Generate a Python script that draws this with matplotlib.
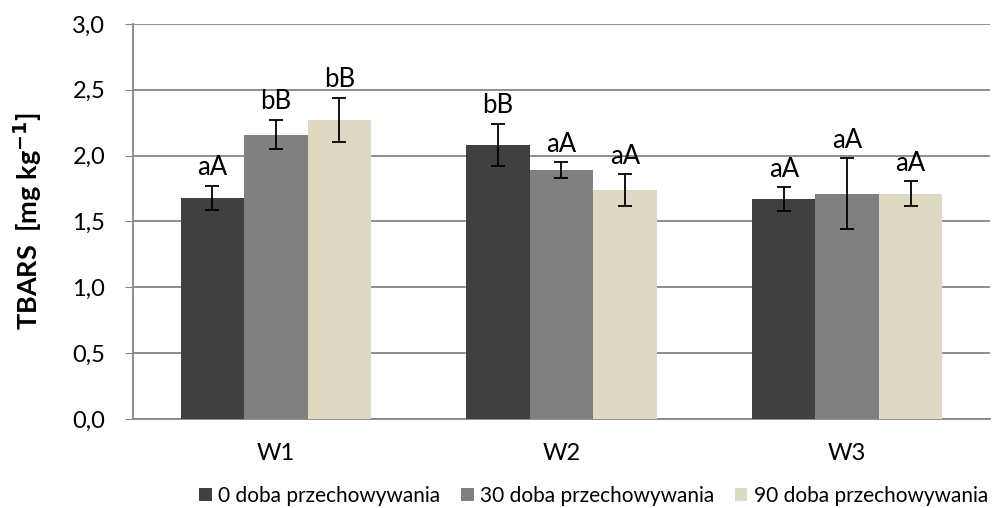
import matplotlib
matplotlib.use("Agg")
import matplotlib.pyplot as plt
import numpy as np

categories = ["W1", "W2", "W3"]
series_names = ["0 doba przechowywania", "30 doba przechowywania", "90 doba przechowywania"]
values = [
    [1.68, 2.08, 1.67],
    [2.16, 1.89, 1.71],
    [2.27, 1.74, 1.71],
]
errors = [
    [0.09, 0.16, 0.09],
    [0.11, 0.06, 0.27],
    [0.17, 0.12, 0.095],
]
labels = [
    ["aA", "bB", "aA"],
    ["bB", "aA", "aA"],
    ["bB", "aA", "aA"],
]
colors = ["#404040", "#808080", "#DDD9C3"]
yticks = [0.0, 0.5, 1.0, 1.5, 2.0, 2.5, 3.0]

plt.rcParams['font.family'] = ['Lato', 'DejaVu Sans']

fig = plt.figure(figsize=(9.96, 5.08), dpi=100)
ax = fig.add_axes([0.1335, 0.175, 0.8605, 0.778])

x = np.arange(len(categories))
w = 0.222
for i in range(3):
    pos = x + (i - 1) * w
    ax.bar(pos, values[i], width=w, color=colors[i], label=series_names[i], zorder=3)
    ax.errorbar(pos, values[i], yerr=errors[i], fmt='none', ecolor='black',
                elinewidth=1.3, capsize=5, capthick=1.3, zorder=4)
    for p, v, e, t in zip(pos, values[i], errors[i], labels[i]):
        ax.annotate(t, (p, v + e), xytext=(0, 4), textcoords='offset points',
                    ha='center', va='bottom', fontsize=18.5, zorder=5)

ax.set_xlim(-0.5, 2.5)
ax.set_ylim(0, 3.0)
ax.set_yticks(yticks)
ax.set_yticklabels([f"{t:.1f}".replace('.', ',') for t in yticks], fontsize=17)
ax.set_xticks(x)
ax.set_xticklabels(categories, fontsize=17)
ax.tick_params(axis='x', length=0, pad=17)
ax.tick_params(axis='y', length=6, color='#868686', pad=14)
ax.yaxis.grid(True, color='#868686', linewidth=1.3, zorder=0)
ax.set_axisbelow(True)
for s in ['top', 'right']:
    ax.spines[s].set_visible(False)
ax.spines['left'].set_color('#868686')
ax.spines['left'].set_linewidth(1.3)
ax.spines['bottom'].set_color('#868686')
ax.spines['bottom'].set_linewidth(1.3)

ax.set_ylabel("TBARS  [mg kg$^{\\mathbf{-1}}$]", fontsize=19.5, fontweight='bold', labelpad=20)

fig.legend(loc='lower center', bbox_to_anchor=(0.596, -0.033), ncol=3, frameon=False,
           fontsize=15, handlelength=0.6, handleheight=0.6, handletextpad=0.3,
           columnspacing=1.0)

fig.savefig("out.png", dpi=100)
